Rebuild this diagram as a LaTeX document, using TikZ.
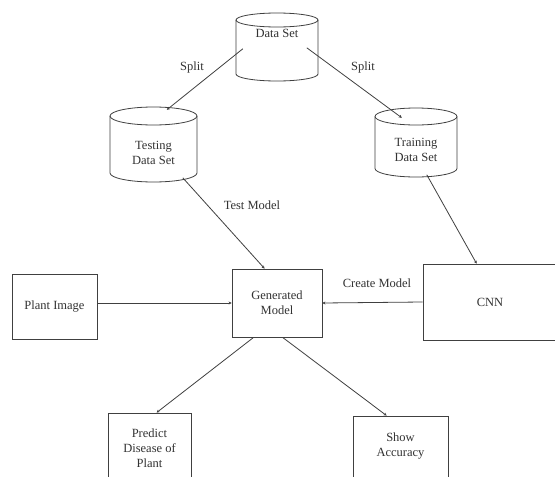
\documentclass[tikz,border=0pt]{standalone}
\usepackage{fontspec}
\setmainfont{Liberation Serif}
\usetikzlibrary{arrows.meta,calc}
\newcommand\mycyl[5]{% cx, half width, top, bottom, ry
  \draw[ln] ({#1},{#3+#5}) ellipse [x radius=#2pt, y radius=#5pt];
  \draw[ln] ({#1-#2},{#3+#5}) -- ({#1-#2},{#4-#5})
    arc[start angle=180, end angle=360, x radius=#2pt, y radius=#5pt]
    -- ({#1+#2},{#3+#5});
}
\begin{document}
\begin{tikzpicture}[x=1pt,y=-1pt,
  ln/.style={draw=black!75, line width=0.8pt},
  conn/.style={ln, -{Stealth[length=3pt,width=3pt]}},
  boxnode/.style={ln, rectangle, inner sep=0pt, align=center,
    font=\fontsize{12.5}{15}\selectfont, text=black!80},
  cylbox/.style={rectangle, inner sep=0pt},
  txt/.style={align=center, inner sep=0pt, font=\fontsize{12.5}{15}\selectfont, text=black!80},
  lbl/.style={inner sep=0pt, font=\fontsize{12.5}{15}\selectfont, text=black!80}]
\useasboundingbox (0,0) rectangle (555,477);
\clip (0,0) rectangle (555,477);
\fill[white] (0,0) rectangle (555,477);

% cylinders
\mycyl{277}{41}{13}{81}{7}
\node[cylbox, minimum width=82pt, minimum height=68pt] (ds) at (277,47) {};
\node[txt] (dst) at (277,33) {Data Set};

\mycyl{153.5}{43.5}{107}{182}{9}
\node[cylbox, minimum width=87pt, minimum height=75pt] (ts) at (153.5,144.5) {};
\node[txt] (tst) at (153.5,152.5) {Testing\\Data Set};

\mycyl{416}{41}{108}{177}{8.5}
\node[cylbox, minimum width=82pt, minimum height=69pt] (tr) at (416,142.5) {};
\node[txt] (trt) at (416,150) {Training\\Data Set};

% boxes
\node[boxnode, minimum width=85pt, minimum height=65pt] (pi) at (54.5,306.5) {Plant Image};
\node[boxnode, minimum width=90pt, minimum height=68pt] (gm) at (277,303) {Generated\\Model};
\node[boxnode, minimum width=134pt, minimum height=76pt] (cnn) at (490,302) {CNN};
\node[boxnode, minimum width=83pt, minimum height=70pt] (pd) at (149.5,448) {Predict\\Disease of\\Plant};
\node[boxnode, minimum width=95pt, minimum height=70pt,
  label={[txt, yshift=5pt]center:Show\\Accuracy}] (sa) at (400.5,451) {};

% connectors
\draw[conn] ($(ds.north west)+(7,36)$) -- ($(ts.north west)+(57,3)$);
\draw[conn] ($(ds.north west)+(71,35)$) -- ($(tr.north west)+(27,10)$);
\draw[conn] ($(ts.north west)+(73,71)$) -- ($(gm.north west)+(33,0)$);
\draw[conn] ($(tr.north west)+(52,67)$) -- ($(cnn.north west)+(54,0)$);
\draw[conn] (pi.east |- gm.west) -- (gm.west);
\draw[conn] (cnn.west) -- (gm.east);
\draw[conn] ($(gm.south west)+(22,0)$) -- ($(pd.north west)+(49,0)$);
\draw[conn] ($(gm.south west)+(51,0)$) -- ($(sa.north west)+(34,0)$);

% labels
\node[lbl] (l1) at (192,67) {Split};
\node[lbl] (l2) at (363,67) {Split};
\node[lbl] (l3) at (252,205) {Test Model};
\node[lbl] (l4) at (377,283) {Create Model};
\end{tikzpicture}
\end{document}
